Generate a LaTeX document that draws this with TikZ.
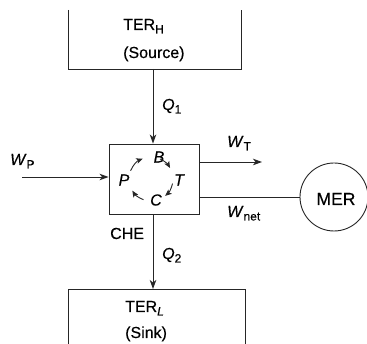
\documentclass[tikz,border=0pt]{standalone}
\usepackage{fontspec}
\setmainfont{Liberation Sans}[FakeBold=0.35]
\usetikzlibrary{arrows.meta,calc}
\newcommand{\mysub}[1]{\raisebox{-3.5pt}{\fontsize{12}{12}\selectfont #1}}
\begin{document}
\begin{tikzpicture}[x=1pt,y=1pt,
  ln/.style={line width=0.9pt,draw=black!85},
  arr/.style={ln,-{Stealth[length=9pt,width=6.5pt,inset=2.5pt]}},
  cyc/.style={line width=0.9pt,draw=black!85,-{Stealth[length=6.5pt,width=5.5pt,inset=1.5pt]}},
  lbl/.style={inner sep=0pt,anchor=base west,font=\fontsize{16}{18}\selectfont},
  cl/.style={inner sep=0pt,font=\fontsize{16}{18}\selectfont\itshape}]
\useasboundingbox (0,0) rectangle (367,-344);
\clip (0,0) rectangle (367,-344);
% source reservoir
\draw[ln] (68,-10) -- (68,-69) -- (241,-69) -- (241,-10);
\coordinate (src) at (153,-69);
\node[lbl] (terh) at (123,-30) {TER\mysub{H}};
\node[lbl] (srcl) at (123,-58) {(Source)};
% sink reservoir
\draw[ln] (68,-350) -- (68,-289) -- (245,-289) -- (245,-350);
\coordinate (snk) at (153,-289);
\node[lbl] (terl) at (125,-312) {TER\mysub{\textit{L}}};
\node[lbl] (snkl) at (125,-338) {(Sink)};
% engine
\node[ln,draw,minimum width=90pt,minimum height=70pt,inner sep=0pt] (che) at (154,-179) {};
\node[lbl] (chel) at (110,-239) {CHE};
% MER
\node[ln,draw,circle,minimum size=68pt,inner sep=0pt] (mer) at (334,-197) {};
\node[inner sep=0pt,anchor=base,font=\fontsize{17.5}{20}\selectfont] (merl) at (336,-205) {MER};
% heat flows
\draw[arr] (src) -- (che.north -| src);
\draw[arr] (che.south -| snk) -- (snk);
\node[lbl] (q1) at (162,-110) {\textit{Q}\mysub{1}};
\node[lbl] (q2) at (162,-259) {\textit{Q}\mysub{2}};
% work
\coordinate (wp) at (22,-177);
\draw[arr] (wp) -- (che.west |- wp);
\node[lbl] (wpl) at (10,-165) {\textit{W}\mysub{P}};
\coordinate (wt) at (262,-162);
\draw[arr] (che.east |- wt) -- (wt);
\node[lbl] (wtl) at (227,-147) {\textit{W}\mysub{T}};
\draw[ln] (che.east |- mer.west) -- (mer.west);
\node[lbl] (wnl) at (227,-217) {\textit{W}\mysub{net}};
% cycle
\coordinate (o) at (151,-179);
\node[cl] (B) at (159,-157) {B};
\node[cl] (T) at (179,-180) {T};
\node[cl] (C) at (156,-200) {C};
\node[cl] (P) at (124,-180) {P};
\draw[cyc] ($(o)+(158:22)$) arc[start angle=158,end angle=112,radius=22pt];
\draw[cyc] ($(o)+(66:22)$) arc[start angle=66,end angle=30,radius=22pt];
\draw[cyc] ($(o)+(-12:22)$) arc[start angle=-12,end angle=-50,radius=22pt];
\draw[cyc] ($(o)+(-110:22)$) arc[start angle=-110,end angle=-148,radius=22pt];
\end{tikzpicture}
\end{document}
